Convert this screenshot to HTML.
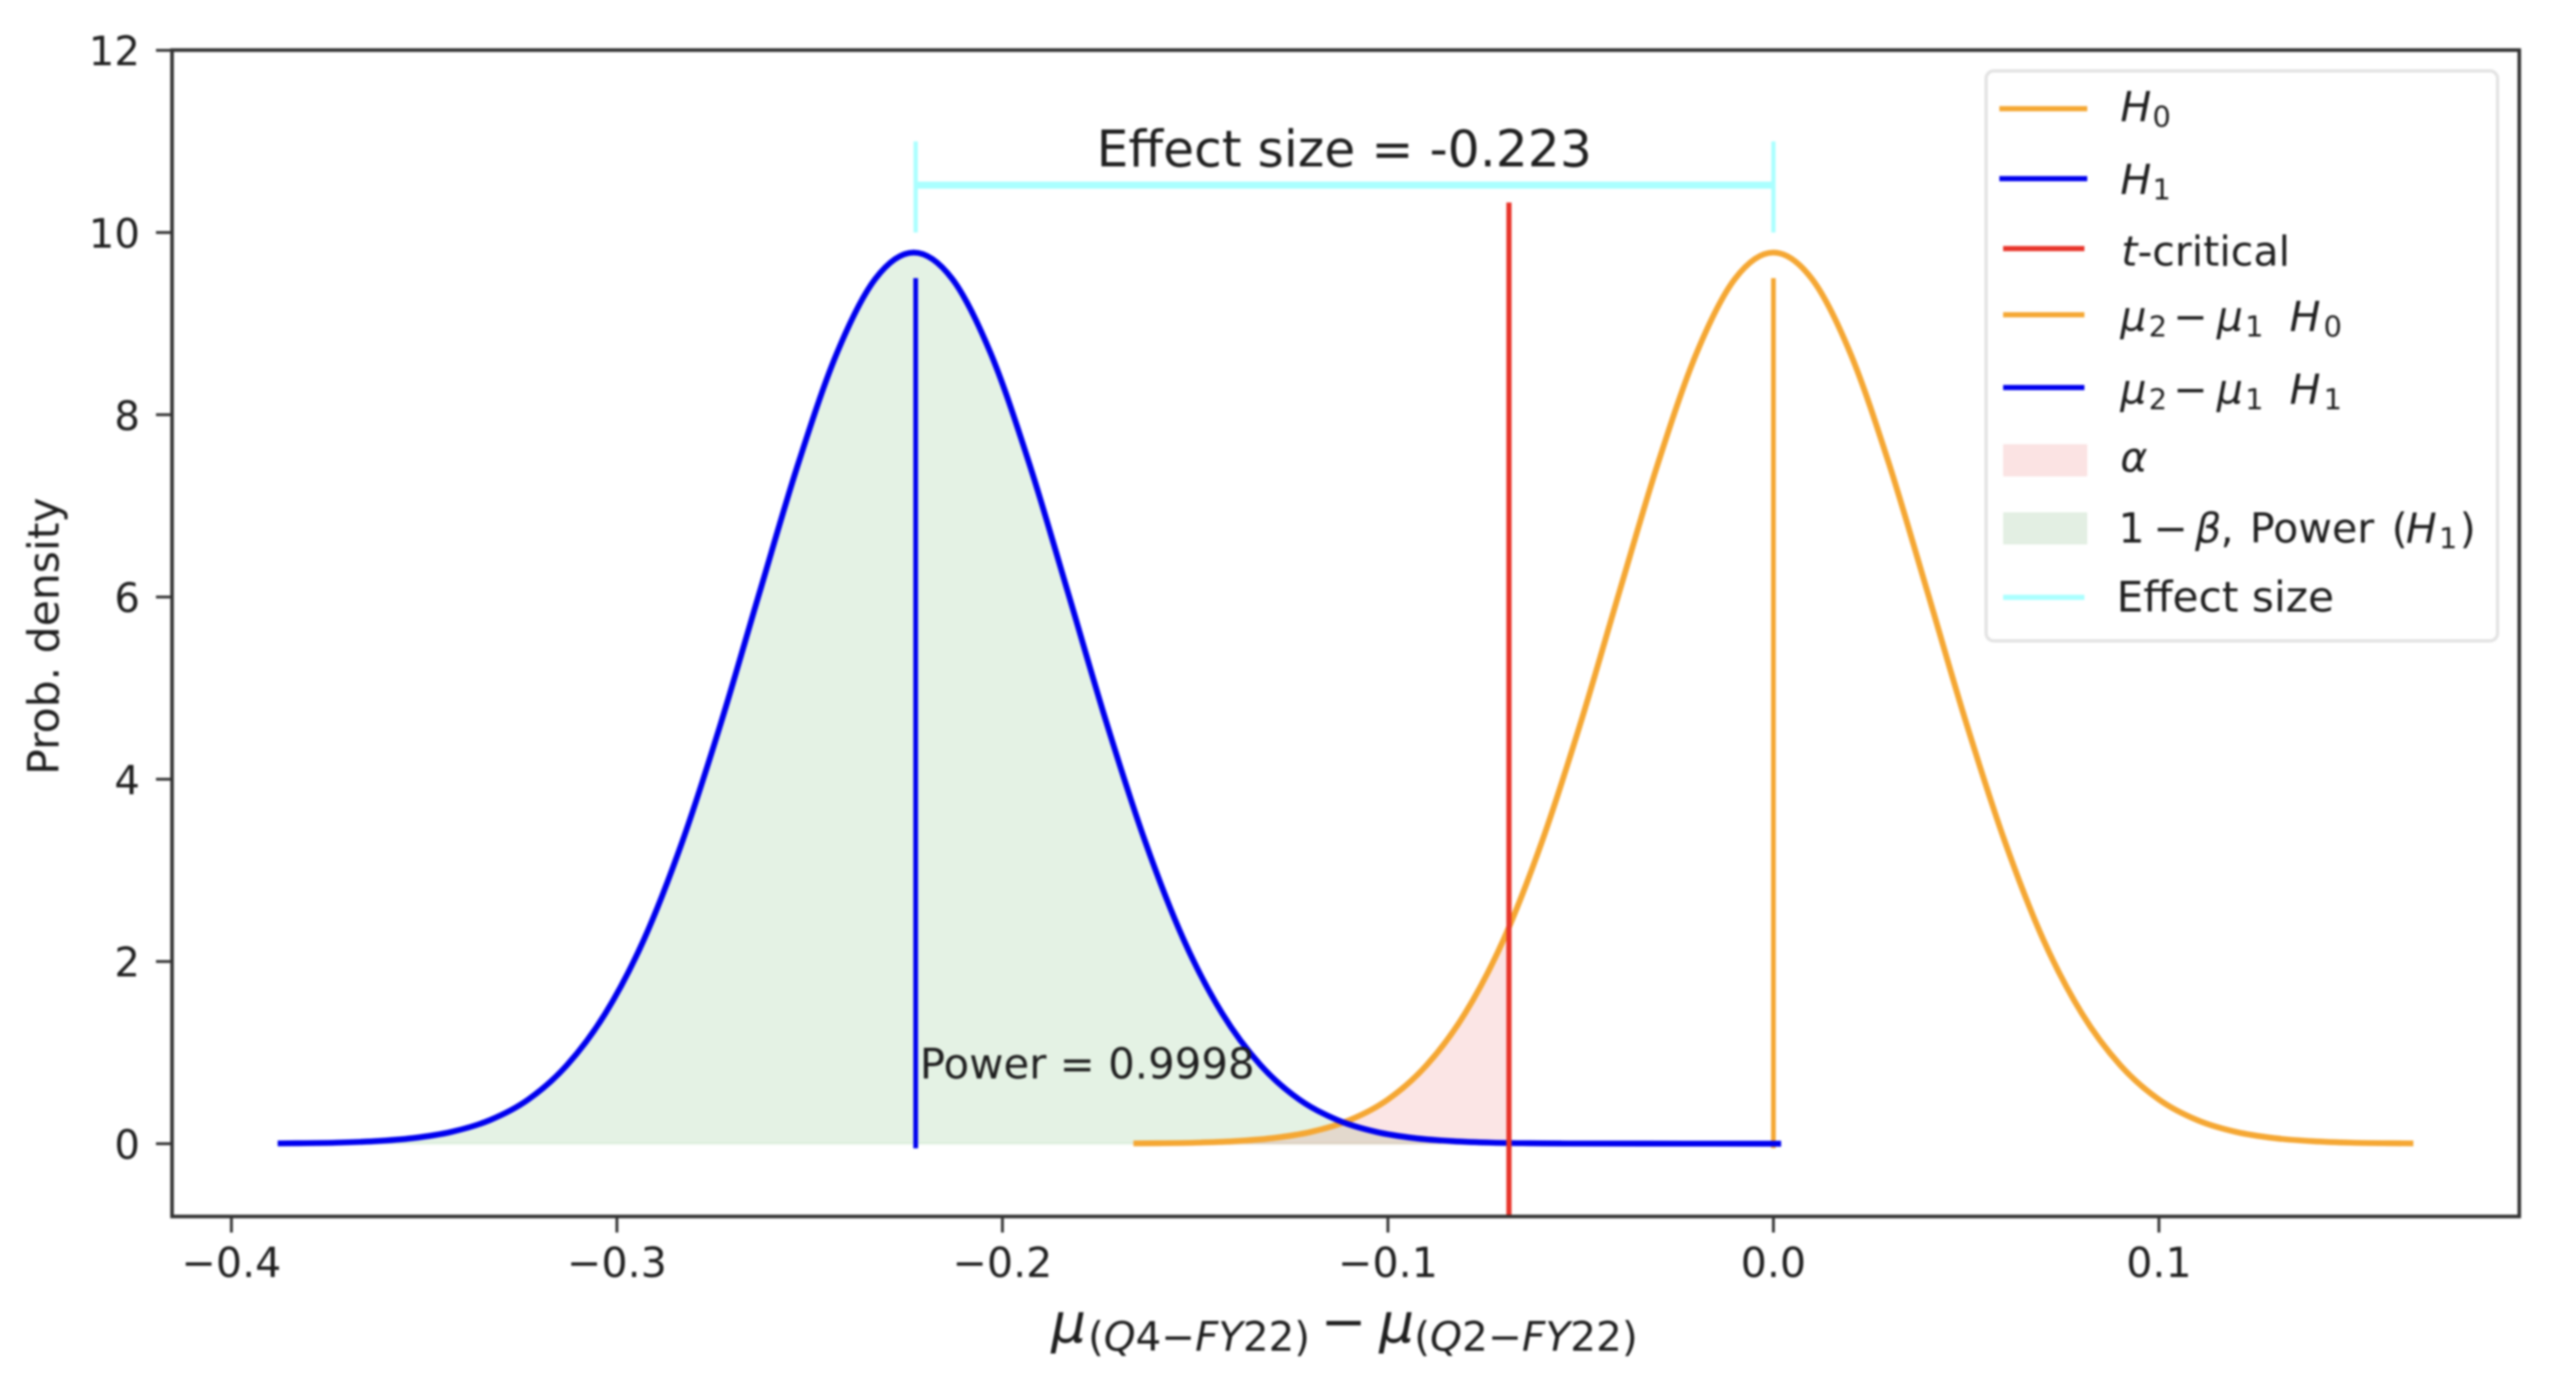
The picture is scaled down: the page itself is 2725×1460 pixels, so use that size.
<!DOCTYPE html>
<html lang="en">
<head>
<meta charset="utf-8">
<title>Power analysis chart</title>
<style>
html,body{margin:0;padding:0;background:#fff;width:2725px;height:1460px;overflow:hidden}
svg{display:block;filter:blur(1px)}
text{font-family:"DejaVu Sans","Liberation Sans",sans-serif;fill:#1f1f1f}
.i{font-style:italic}
.lg{font-size:43.5px}
.sb{font-size:30.5px}
</style>
</head>
<body>
<svg id="chart" xmlns="http://www.w3.org/2000/svg" width="2725" height="1460" viewBox="0 0 2725 1460">
  <rect x="0" y="0" width="2725" height="1460" fill="#ffffff"/>
  <g id="fills"></g>
  <g id="series"></g>
  <g id="axes"></g>

  <text x="1422" y="176" text-anchor="middle" font-size="53.3">Effect size = -0.223</text>
  <text x="973" y="1141" font-size="44.3">Power = 0.9998</text>

  <text transform="translate(62,673) rotate(-90)" text-anchor="middle" font-size="45">Prob. density</text>

  <g>
    <text class="i" x="1112" y="1420" font-size="58">μ</text>
    <text x="1151" y="1429" font-size="42.7">(<tspan class="i">Q</tspan>4−<tspan class="i">FY</tspan>22)</text>
    <text x="1397" y="1418" font-size="58">−</text>
    <text class="i" x="1459" y="1420" font-size="58">μ</text>
    <text x="1496" y="1429" font-size="43">(<tspan class="i">Q</tspan>2−<tspan class="i">FY</tspan>22)</text>
  </g>

  <g>
    <rect x="2101" y="75" width="541" height="603" rx="8" fill="#ffffff" fill-opacity="0.85" stroke="#e3e3e3" stroke-width="3.5"/>

    <g>
      <line x1="2115" x2="2208" y1="115" y2="115" stroke="#f5a733" stroke-width="5.5"/>
      <text class="lg i" x="2243" y="128">H</text><text class="sb" x="2277" y="134">0</text>
    </g>
    <g>
      <line x1="2115" x2="2208" y1="189" y2="189" stroke="#0000ee" stroke-width="5.5"/>
      <text class="lg i" x="2243" y="205">H</text><text class="sb" x="2277" y="211">1</text>
    </g>
    <g>
      <line x1="2119" x2="2205" y1="263" y2="263" stroke="#e8352b" stroke-width="5.5"/>
      <text class="lg" x="2244" y="281"><tspan class="i">t</tspan>-critical</text>
    </g>
    <g>
      <line x1="2119" x2="2205" y1="333" y2="333" stroke="#f5a733" stroke-width="5.5"/>
      <text class="lg i" x="2243" y="350">μ</text><text class="sb" x="2273" y="356">2</text>
      <text class="lg" x="2299" y="350">−</text>
      <text class="lg i" x="2345" y="350">μ</text><text class="sb" x="2375" y="356">1</text>
      <text class="lg i" x="2422" y="350">H</text><text class="sb" x="2458" y="356">0</text>
    </g>
    <g>
      <line x1="2119" x2="2205" y1="410" y2="410" stroke="#0000ee" stroke-width="5.5"/>
      <text class="lg i" x="2243" y="427">μ</text><text class="sb" x="2273" y="433">2</text>
      <text class="lg" x="2299" y="427">−</text>
      <text class="lg i" x="2345" y="427">μ</text><text class="sb" x="2375" y="433">1</text>
      <text class="lg i" x="2422" y="427">H</text><text class="sb" x="2458" y="433">1</text>
    </g>
    <g>
      <rect x="2119" y="470" width="89" height="34" fill="#fbe3e3"/>
      <text class="lg i" x="2243" y="499">α</text>
    </g>
    <g>
      <rect x="2119" y="542" width="89" height="34" fill="#e3efe3"/>
      <text class="lg" x="2241" y="574">1</text>
      <text class="lg" x="2278" y="574">−</text>
      <text class="lg i" x="2322" y="574">β</text>
      <text class="lg" x="2349" y="574">,</text>
      <text class="lg" x="2380" y="574">Power</text>
      <text class="lg" x="2530" y="574">(</text>
      <text class="lg i" x="2545" y="574">H</text><text class="sb" x="2580" y="580">1</text>
      <text class="lg" x="2602" y="574">)</text>
    </g>
    <g>
      <line x1="2119" x2="2205" y1="632" y2="632" stroke="#aaffff" stroke-width="5.5"/>
      <text class="lg" x="2239" y="647" style="font-size:44.8px">Effect size</text>
    </g>
  </g>
</svg>
<script>
// Chart data
const xTicks = [-0.4, -0.3, -0.2, -0.1, 0.0, 0.1];
const xTickLabels = ["−0.4", "−0.3", "−0.2", "−0.1", "0.0", "0.1"];
const yTicks = [0, 2, 4, 6, 8, 10, 12];
const yTickLabels = ["0", "2", "4", "6", "8", "10", "12"];

const h1X = [-0.388, -0.383, -0.373, -0.363, -0.353, -0.343, -0.333, -0.323, -0.313, -0.303, -0.293, -0.283, -0.273, -0.263, -0.253, -0.243, -0.233, -0.223, -0.213, -0.203, -0.193, -0.183, -0.173, -0.163, -0.153, -0.143, -0.133, -0.123, -0.113, -0.103, -0.093, -0.083, -0.073, -0.063, -0.053, -0.033, 0.002];
const h1Y = [0.003, 0.005, 0.011, 0.027, 0.061, 0.129, 0.258, 0.485, 0.86, 1.43, 2.24, 3.32, 4.62, 6.05, 7.46, 8.67, 9.49, 9.78, 9.49, 8.67, 7.46, 6.05, 4.62, 3.32, 2.24, 1.43, 0.86, 0.485, 0.258, 0.129, 0.061, 0.027, 0.011, 0.005, 0.002, 0.001, 0];

const h0X = [-0.166, -0.16, -0.15, -0.14, -0.13, -0.12, -0.11, -0.10, -0.09, -0.08, -0.07, -0.06, -0.05, -0.04, -0.03, -0.02, -0.01, 0, 0.01, 0.02, 0.03, 0.04, 0.05, 0.06, 0.07, 0.08, 0.09, 0.10, 0.11, 0.12, 0.13, 0.14, 0.15, 0.16, 0.166];
const h0Y = [0.003, 0.005, 0.011, 0.027, 0.061, 0.129, 0.258, 0.485, 0.86, 1.43, 2.24, 3.32, 4.62, 6.05, 7.46, 8.67, 9.49, 9.78, 9.49, 8.67, 7.46, 6.05, 4.62, 3.32, 2.24, 1.43, 0.86, 0.485, 0.258, 0.129, 0.061, 0.027, 0.011, 0.005, 0.003];

const h1Mean = [-0.2225];
const h0Mean = [0];
const tCritical = [-0.0686];
const tCriticalTop = [10.33];
const meanLineTop = [9.5];
const effectBarY = [10.52];
const effectCapLow = [10.0];
const effectCapHigh = [11.0];

// Axis functions
const plotLeft = 182, plotRight = 2665, plotTop = 53, plotBottom = 1287;
function sx(v) { return 1876 + 4078 * v; }
function sy(v) { return 1210 - 96.4 * v; }

const NS = "http://www.w3.org/2000/svg";
const fillsG = document.getElementById("fills");
const seriesG = document.getElementById("series");
const axesG = document.getElementById("axes");

function mk(tag, attrs, parent) {
  const el = document.createElementNS(NS, tag);
  for (const k in attrs) el.setAttribute(k, attrs[k]);
  parent.appendChild(el);
  return el;
}

function smoothPath(xs, ys) {
  const p = xs.map((x, i) => [sx(x), sy(ys[i])]);
  let d = "M" + p[0][0].toFixed(2) + "," + p[0][1].toFixed(2);
  for (let i = 0; i < p.length - 1; i++) {
    const a = p[Math.max(i - 1, 0)], b = p[i], c = p[i + 1], e = p[Math.min(i + 2, p.length - 1)];
    const c1x = b[0] + (c[0] - a[0]) / 6, c1y = b[1] + (c[1] - a[1]) / 6;
    const c2x = c[0] - (e[0] - b[0]) / 6, c2y = c[1] - (e[1] - b[1]) / 6;
    d += "C" + c1x.toFixed(2) + "," + c1y.toFixed(2) + " " + c2x.toFixed(2) + "," + c2y.toFixed(2) + " " + c[0].toFixed(2) + "," + c[1].toFixed(2);
  }
  return d;
}

function clipAt(xs, ys, limit) {
  const outX = [], outY = [];
  for (let i = 0; i < xs.length; i++) {
    if (xs[i] <= limit) { outX.push(xs[i]); outY.push(ys[i]); }
    else {
      const t = (limit - xs[i - 1]) / (xs[i] - xs[i - 1]);
      outX.push(limit);
      outY.push(ys[i - 1] + t * (ys[i] - ys[i - 1]));
      break;
    }
  }
  return [outX, outY];
}

function areaPath(xs, ys) {
  return smoothPath(xs, ys) + "L" + sx(xs[xs.length - 1]).toFixed(2) + "," + sy(0) + "L" + sx(xs[0]).toFixed(2) + "," + sy(0) + "Z";
}

// Shaded areas
const powerClip = clipAt(h1X, h1Y, tCritical[0]);
const powerArea = mk("path", { d: areaPath(powerClip[0], powerClip[1]), fill: "rgba(0,128,0,0.105)", stroke: "rgba(0,128,0,0.05)", "stroke-width": 3 }, fillsG);



const alphaClip = clipAt(h0X, h0Y, tCritical[0]);
const alphaArea = mk("path", { d: areaPath(alphaClip[0], alphaClip[1]), fill: "rgba(220,30,30,0.115)", stroke: "rgba(220,30,30,0.05)", "stroke-width": 3 }, fillsG);



// Effect size bracket
const effectBar = mk("line", { x1: sx(h1Mean[0]), x2: sx(h0Mean[0]), y1: sy(effectBarY[0]), y2: sy(effectBarY[0]), stroke: "#aaffff", "stroke-width": 7.5 }, seriesG);



const effectCapLeft = mk("line", { x1: sx(h1Mean[0]), x2: sx(h1Mean[0]), y1: sy(effectCapLow[0]), y2: sy(effectCapHigh[0]), stroke: "#aaffff", "stroke-width": 4.5 }, seriesG);



const effectCapRight = mk("line", { x1: sx(h0Mean[0]), x2: sx(h0Mean[0]), y1: sy(effectCapLow[0]), y2: sy(effectCapHigh[0]), stroke: "#aaffff", "stroke-width": 4.5 }, seriesG);



// Mean lines and curves
const h0MeanLine = mk("line", { x1: sx(h0Mean[0]), x2: sx(h0Mean[0]), y1: sy(meanLineTop[0]), y2: sy(-0.05), stroke: "#f5a733", "stroke-width": 5 }, seriesG);



const h0Curve = mk("path", { d: smoothPath(h0X, h0Y), fill: "none", stroke: "#f5a733", "stroke-width": 6.2 }, seriesG);



const h1Curve = mk("path", { d: smoothPath(h1X, h1Y), fill: "none", stroke: "#0000ee", "stroke-width": 6.2 }, seriesG);



const h1MeanLine = mk("line", { x1: sx(h1Mean[0]), x2: sx(h1Mean[0]), y1: sy(meanLineTop[0]), y2: sy(-0.05), stroke: "#0000ee", "stroke-width": 5 }, seriesG);



const tLine = mk("line", { x1: sx(tCritical[0]), x2: sx(tCritical[0]), y1: sy(tCriticalTop[0]), y2: plotBottom, stroke: "#e8352b", "stroke-width": 5.5 }, seriesG);



// Axes
const frame = mk("rect", { x: plotLeft, y: plotTop, width: plotRight - plotLeft, height: plotBottom - plotTop, fill: "none", stroke: "#333333", "stroke-width": 3.8 }, axesG);



xTicks.forEach(function (v, i) {
  const tick = mk("line", { x1: sx(v), x2: sx(v), y1: plotBottom, y2: plotBottom + 17, stroke: "#333333", "stroke-width": 3 }, axesG);
  
  
  const label = mk("text", { x: sx(v), y: 1351, "text-anchor": "middle", "font-size": 43.5 }, axesG);
  label.textContent = xTickLabels[i];
  
  
});

yTicks.forEach(function (v, i) {
  const tick = mk("line", { x1: plotLeft - 17, x2: plotLeft, y1: sy(v), y2: sy(v), stroke: "#333333", "stroke-width": 3 }, axesG);
  
  
  const label = mk("text", { x: 148, y: sy(v) + 16, "text-anchor": "end", "font-size": 42.5 }, axesG);
  label.textContent = yTickLabels[i];
  
  
});
</script>
</body>
</html>
